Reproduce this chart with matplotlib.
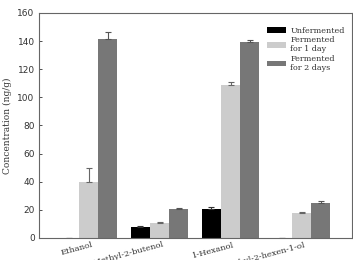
import numpy as np
import matplotlib.pyplot as plt

# Данные
compounds = ['Ethanol', '3-Methyl-2-butenol', '1-Hexanol', '2-Ethyl-2-hexen-1-ol']
unfermented = [0, 8.1, 20.6, 0]
unfermented_err = [0, 0.6, 1.4, 0]
ferm_1day = [40.0, 10.9, 108.8, 17.8]
ferm_1day_err = [9.6, 0.6, 2.4, 0.4]
ferm_2days = [141.5, 20.4, 139.2, 24.9]
ferm_2days_err = [5.0, 0.7, 1.3, 1.2]

x = np.arange(len(compounds))
w = 0.27

fig = plt.figure(figsize=(3.53, 2.6), dpi=100)
ax = fig.add_axes([0.110, 0.085, 0.887, 0.865])

err_kw = dict(capsize=2, elinewidth=0.8, capthick=0.8)
ax.bar(x - w, unfermented, w, color='black', label='Unfermented',
       yerr=[np.zeros(4), unfermented_err], ecolor='#333333', error_kw=err_kw)
ax.bar(x, ferm_1day, w, color='#cccccc', label='Fermented\nfor 1 day',
       yerr=[np.zeros(4), ferm_1day_err], ecolor='#666666', error_kw=err_kw)
ax.bar(x + w, ferm_2days, w, color='#777777', label='Fermented\nfor 2 days',
       yerr=[np.zeros(4), ferm_2days_err], ecolor='#555555', error_kw=err_kw)

ax.set_xlim(-0.70, 3.71)
ax.set_ylim(0, 160)
ax.set_yticks(np.arange(0, 161, 20))
ax.tick_params(axis='y', direction='in', length=2, width=0.6, labelsize=6.5,
               colors='#333333', pad=3)
ax.tick_params(axis='x', length=0, pad=2)
ax.set_xticks(x + 0.04)
ax.set_xticklabels(compounds, rotation=15, ha='right', rotation_mode='anchor',
                   family='serif', fontsize=6, color='#333333')
for s in ax.spines.values():
    s.set_color('#666666')
    s.set_linewidth(0.8)

ax.set_ylabel('Concentration (ng/g)', family='serif', fontsize=6.5,
              color='#333333', labelpad=4)

ax.legend(loc='upper right', bbox_to_anchor=(1.0, 0.97), frameon=False,
          prop={'family': 'serif', 'size': 5.8}, handlelength=2.4,
          handleheight=0.7, handletextpad=0.5, labelspacing=0.15,
          labelcolor='#333333')

plt.savefig('out.png', dpi=100)
